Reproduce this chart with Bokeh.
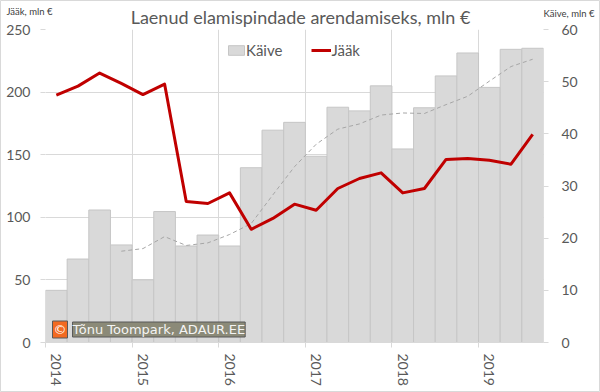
from bokeh.plotting import figure
from bokeh.layouts import column
from bokeh.models import (Range1d, LinearAxis, FixedTicker, Label, Legend, LegendItem)
from bokeh.embed import file_html
from bokeh.resources import INLINE

# ---- data ----
quarters = ["2014 Q1", "2014 Q2", "2014 Q3", "2014 Q4",
            "2015 Q1", "2015 Q2", "2015 Q3", "2015 Q4",
            "2016 Q1", "2016 Q2", "2016 Q3", "2016 Q4",
            "2017 Q1", "2017 Q2", "2017 Q3", "2017 Q4",
            "2018 Q1", "2018 Q2", "2018 Q3", "2018 Q4",
            "2019 Q1", "2019 Q2", "2019 Q3"]
years = ["2014", "2015", "2016", "2017", "2018", "2019"]
kaive = [10.0, 16.0, 25.4, 18.7, 12.0, 25.1, 18.5, 20.6, 18.5, 33.5, 40.7, 42.2,
         35.7, 45.1, 44.4, 49.2, 37.1, 45.0, 51.1, 55.5, 48.9, 56.2, 56.4]
jaak = [197.6, 204.8, 215.2, 207.0, 198.0, 206.4, 112.7, 111.0, 119.5, 90.4, 99.1, 110.5,
        105.6, 123.0, 131.0, 135.5, 119.5, 123.0, 146.2, 147.0, 145.6, 142.4, 166.3]
kaive_avg = [float("nan"), float("nan"), float("nan"), 17.5, 18.0, 20.3, 18.6, 19.1, 20.7, 22.8,
             28.3, 33.7, 38.0, 40.9, 41.9, 43.6, 44.0, 43.9, 45.6, 47.2, 50.1, 52.9, 54.3]
left_ticks = [0, 50, 100, 150, 200, 250]
right_ticks = [0, 10, 20, 30, 40, 50, 60]

xs = list(range(len(quarters)))
year_pos = [quarters.index(y + " Q1") for y in years]
year_bounds = [q - 0.5 for q in year_pos]

FONT = "Lato"
TXT = "#595959"
GRID = "#d9d9d9"
W, H = 600, 392

# ---- main chart ----
p = figure(width=W, height=H, output_backend="svg", toolbar_location=None,
           x_range=Range1d(-0.5, len(quarters) - 0.5),
           y_range=Range1d(left_ticks[0], left_ticks[-1]),
           min_border_left=45, min_border_right=57, min_border_top=29, min_border_bottom=50)
p.outline_line_color = None
p.extra_y_ranges = {"k": Range1d(right_ticks[0], right_ticks[-1])}

p.xaxis.ticker = FixedTicker(ticks=year_pos, minor_ticks=year_bounds)
p.xaxis.major_label_overrides = {pos: yr for pos, yr in zip(year_pos, years)}
p.xaxis.major_label_orientation = "vertical"
p.xaxis.major_label_text_font = FONT
p.xaxis.major_label_text_font_size = "14px"
p.xaxis.major_label_text_color = TXT
p.xaxis.major_label_standoff = 6
p.xaxis.major_tick_in = 0
p.xaxis.major_tick_out = 0
p.xaxis.major_tick_line_color = None
p.xaxis.minor_tick_in = 0
p.xaxis.minor_tick_out = 5
p.xaxis.minor_tick_line_color = GRID
p.xaxis.axis_line_color = GRID
p.xgrid.ticker = FixedTicker(ticks=year_bounds)
p.xgrid.grid_line_color = GRID

p.yaxis.ticker = FixedTicker(ticks=left_ticks)
p.yaxis.major_label_text_font = FONT
p.yaxis.major_label_text_font_size = "14px"
p.yaxis.major_label_text_color = TXT
p.yaxis.major_label_standoff = 10
p.yaxis.major_tick_in = 0
p.yaxis.major_tick_out = 5
p.yaxis.major_tick_line_color = GRID
p.yaxis.minor_tick_line_color = None
p.yaxis.axis_line_color = None
p.ygrid.grid_line_color = GRID

ra = LinearAxis(y_range_name="k", ticker=FixedTicker(ticks=right_ticks))
ra.major_label_text_font = FONT
ra.major_label_text_font_size = "14px"
ra.major_label_text_color = TXT
ra.major_label_standoff = 13
ra.major_tick_in = 0
ra.major_tick_out = 5
ra.major_tick_line_color = GRID
ra.minor_tick_line_color = None
ra.axis_line_color = None
p.add_layout(ra, "right")

bars = p.vbar(x=xs, top=kaive, width=1.0, y_range_name="k",
              fill_color="#d9d9d9", line_color="#c6c6c6", line_width=1)
p.line(x=xs, y=kaive_avg, y_range_name="k", line_color="#a6a6a6",
       line_width=1, line_dash="4 3")
red = p.line(x=xs, y=jaak, line_color="#c00000", line_width=3, line_join="round")

legend = Legend(items=[LegendItem(label="Käive", renderers=[bars]),
                       LegendItem(label="Jääk", renderers=[red])],
                orientation="horizontal", location=(181, 283),
                background_fill_alpha=0, border_line_color=None,
                padding=0, margin=0, spacing=29,
                glyph_width=20, glyph_height=12, label_height=12, label_standoff=0,
                label_text_font=FONT, label_text_font_size="15px", label_text_color=TXT)
p.add_layout(legend, "center")

# copyright badge (inside the plot area)
p.add_layout(Label(x=7, y=13, x_units="screen", y_units="screen", text="©",
                   text_align="left", text_baseline="middle",
                   text_font="DejaVu Sans", text_font_size="13px", text_color="white",
                   background_fill_color="#f26a21", padding=1,
                   border_line_color="#595959"))
p.add_layout(Label(x=27, y=13, x_units="screen", y_units="screen",
                   text="Tõnu Toompark, ADAUR.EE",
                   text_align="left", text_baseline="middle",
                   text_font="DejaVu Sans", text_font_size="13px", text_color="#f4f4f4",
                   background_fill_color="#8b8a78", padding=0,
                   border_line_color="#595959"))

# ---- transparent overlay carrying the texts above the plot area (pixel coords, y up) ----
cap = figure(width=W, height=H, output_backend="svg", toolbar_location=None,
             x_range=Range1d(0, W), y_range=Range1d(0, H),
             x_axis_type=None, y_axis_type=None, min_border=0)
cap.grid.visible = False
cap.outline_line_color = "#d9d9d9"
cap.background_fill_alpha = 0
cap.border_fill_alpha = 0
cap.margin = (-H, 0, 0, 0)
for fig in (p, cap):
    try:
        fig.frame_align = False
    except Exception:
        pass

cap.add_layout(Label(x=300, y=H - 16, text="Laenud elamispindade arendamiseks, mln €",
                     text_align="center", text_baseline="middle",
                     text_font=FONT, text_font_size="18px", text_color=TXT))
cap.add_layout(Label(x=6, y=H - 11, text="Jääk, mln €", text_align="left",
                     text_baseline="middle", text_font=FONT, text_font_size="9.5px",
                     text_color="#404040"))
cap.add_layout(Label(x=543, y=H - 12.5, text="Käive, mln €", text_align="left",
                     text_baseline="middle", text_font=FONT, text_font_size="9.5px",
                     text_color="#404040"))

layout = column(p, cap, spacing=0)
open("out.html", "w").write(file_html(layout, INLINE))
